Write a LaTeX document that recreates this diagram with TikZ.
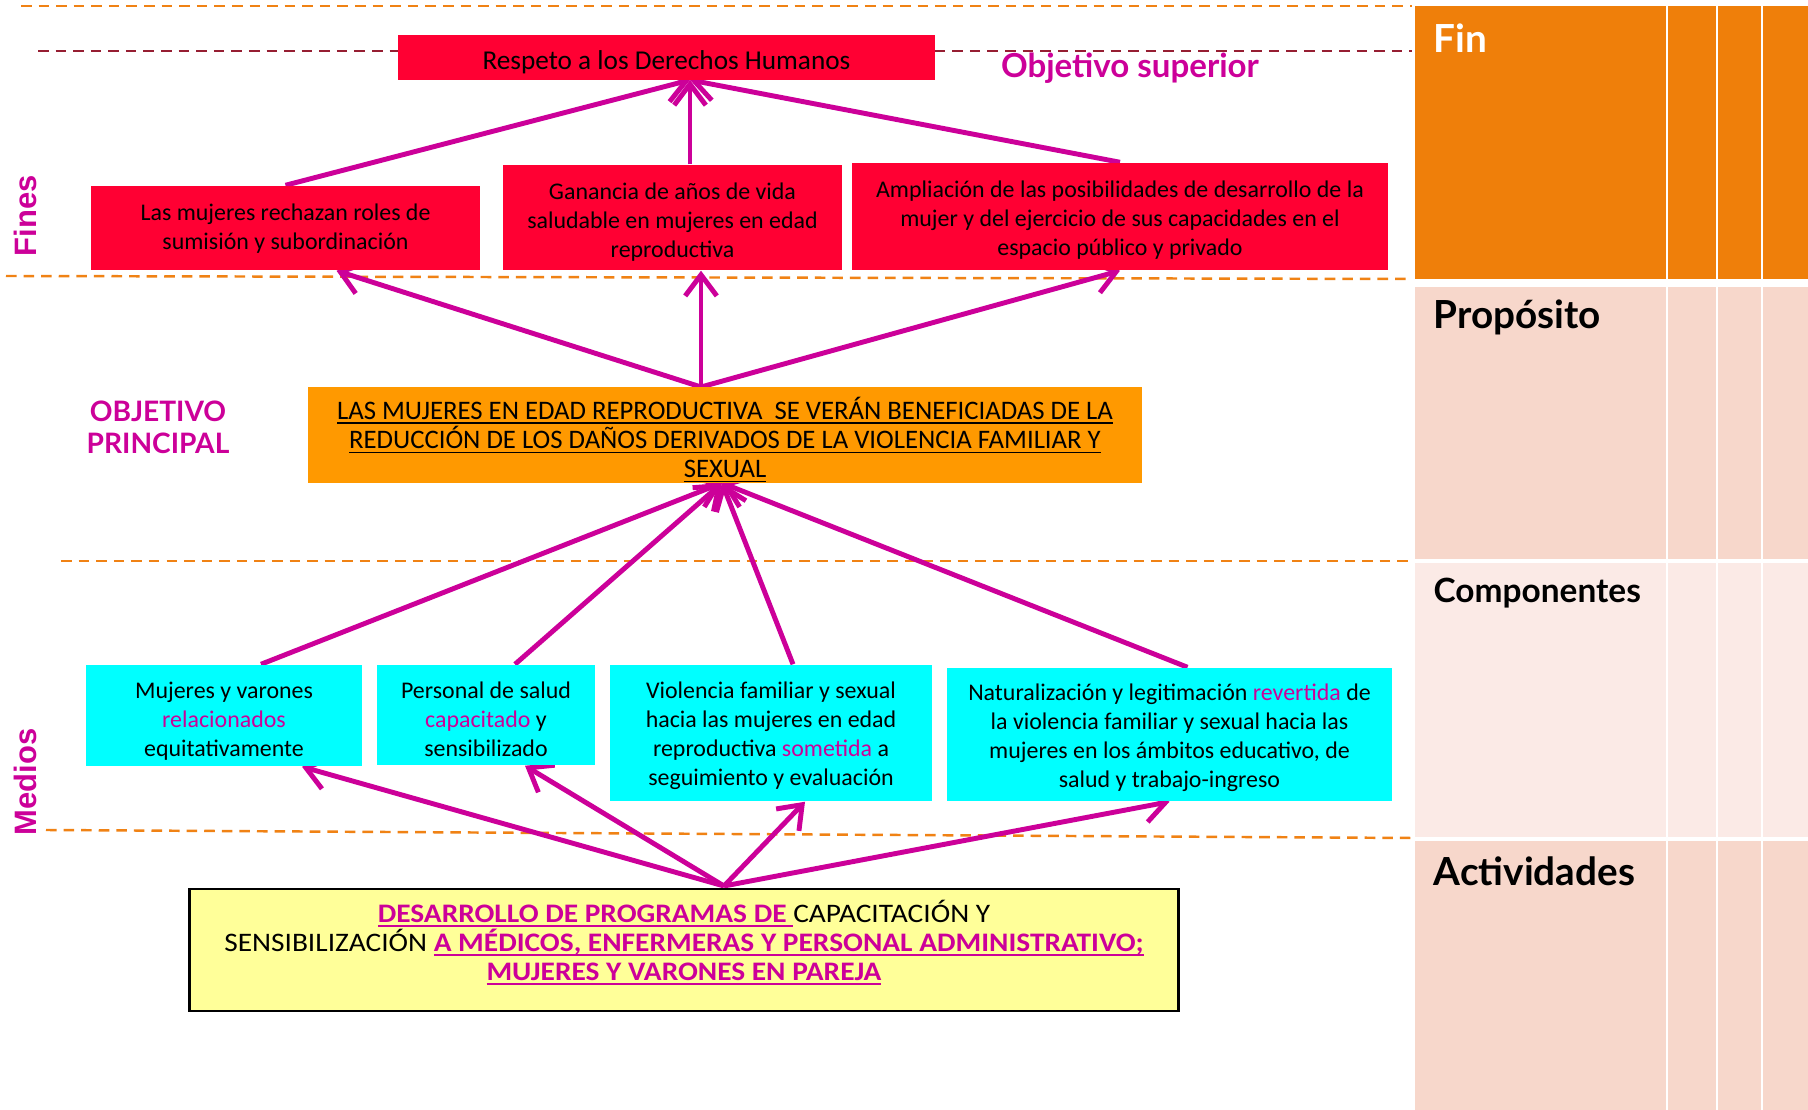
\documentclass[tikz,border=0pt]{standalone}
\usepackage{fontspec}
\setmainfont{Carlito}
\newfontfamily\arialfont{Liberation Sans}
\newfontfamily\labfont{Lato}
\usetikzlibrary{arrows.meta,calc}
\pgfdeclarelayer{back}
\pgfdeclarelayer{arrowlayer}
\pgfsetlayers{back,arrowlayer,main}
\definecolor{mag}{RGB}{204,0,153}
\definecolor{redc}{RGB}{255,0,51}
\definecolor{orc}{RGB}{255,153,0}
\definecolor{cyc}{RGB}{0,255,255}
\definecolor{yec}{RGB}{255,255,153}
\definecolor{odc}{RGB}{240,130,20}
\definecolor{mdc}{RGB}{150,30,50}
\definecolor{finc}{RGB}{239,127,10}
\definecolor{propc}{RGB}{247,215,203}
\definecolor{compc}{RGB}{251,234,230}
\newcommand{\bodyfs}{\fontsize{6.8pt}{8.25pt}\selectfont}
\newcommand{\mg}[1]{\textcolor{mag}{#1}}
\newcommand{\myul}[1]{\setbox0\hbox{#1}\rlap{\smash{\rule[-1.3pt]{\wd0}{0.55pt}}}\box0}
\newcommand{\mgu}[1]{{\color{mag}\bfseries\myul{#1}}}
\begin{document}
\begin{tikzpicture}[x=0.01cm,y=-0.01cm,
  boxbase/.style={draw=none, inner sep=0pt},
  txt/.style={align=center, inner sep=0pt, font=\bodyfs},
  redbox/.style={boxbase, fill=redc},
  orbox/.style={boxbase, fill=orc},
  cybox/.style={boxbase, fill=cyc},
  yebox/.style={boxbase, fill=yec, draw=black, line width=0.8pt},
  conn/.style={draw=mag, line width=1.4pt, -{Straight Barb[length=6pt,width=9pt]}},
  odash/.style={draw=odc, line width=0.7pt, dash pattern=on 3pt off 2pt},
  mdash/.style={draw=mdc, line width=0.7pt, dash pattern=on 3pt off 2pt},
  sidelab/.style={text=mag, font=\arialfont\bfseries\fontsize{8.8pt}{10pt}\selectfont, rotate=90},
  rowlab/.style={anchor=base west, inner sep=0pt, font=\labfont\bfseries\fontsize{11pt}{13pt}\selectfont}
]
\useasboundingbox (0,0) rectangle (1808,1110);
\begin{pgfonlayer}{back}
\fill[white] (0,0) rectangle (1808,1110);
% right table
\foreach \ya/\yb/\cc in {6/279/finc, 287/559/propc, 563/837/compc, 841/1110/propc}{
  \foreach \xa/\xb in {1415/1666, 1668/1716, 1718/1761, 1763/1808}{
    \fill[\cc] (\xa,\ya) rectangle (\xb,\yb);
  }
}
% dashed guide lines
\draw[odash] (21,6) -- (1412,6);
\draw[mdash] (38,51) -- (1412,51);
\draw[odash] (6,276) -- (1412,279);
\draw[odash] (61,561) -- (1412,561);
\draw[odash] (46,830) -- (1412,838);
\end{pgfonlayer}

\node[rowlab, text=white] (lfin) at (1433,53) {Fin};
\node[rowlab] (lprop) at (1433,329) {Propósito};
\node[rowlab, font=\labfont\bfseries\fontsize{9.5pt}{11pt}\selectfont] (lcomp) at (1433,603) {Componentes};
\node[rowlab] (lact) at (1433,886) {Actividades};

% side labels
\node[sidelab] (fines) at (25,216) {Fines};
\node[sidelab] (medios) at (25,782) {Medios};
\node[text=mag, font=\labfont\bfseries\fontsize{9.4pt}{11pt}\selectfont, anchor=base, inner sep=0pt] (objsup) at (1130,78) {Objetivo superior};
\node[text=mag, font=\labfont\bfseries\fontsize{8pt}{9pt}\selectfont, anchor=base, inner sep=0pt] (objp1) at (158,422) {OBJETIVO};
\node[text=mag, font=\labfont\bfseries\fontsize{8pt}{9pt}\selectfont, anchor=base, inner sep=0pt] (objp2) at (158,454) {PRINCIPAL};

% fines
\node[redbox, minimum width=5.37cm, minimum height=0.45cm] (R0) at (666.5,57.5) {};
\node[txt, font=\fontsize{7.75pt}{9pt}\selectfont] (R0t) at ([yshift=-1.3pt]R0.center) {Respeto a los Derechos Humanos};
\node[redbox, minimum width=3.89cm, minimum height=0.84cm] (R1) at (285.5,228) {};
\node[txt] (R1t) at ([yshift=-0.2pt]R1.center) {Las mujeres rechazan roles de\\sumisión y subordinación};
\node[redbox, minimum width=3.39cm, minimum height=1.05cm] (R2) at (672.5,217.5) {};
\node[txt] (R2t) at ([yshift=-1.2pt]R2.center) {Ganancia de años de vida\\saludable en mujeres en edad\\reproductiva};
\node[redbox, minimum width=5.36cm, minimum height=1.07cm] (R3) at (1120,216.5) {};
\node[txt] (R3t) at ([yshift=-1.0pt]R3.center) {Ampliación de las posibilidades de desarrollo de la\\mujer y del ejercicio de sus capacidades en el\\espacio público y privado};

% objetivo principal
\node[orbox, minimum width=8.34cm, minimum height=0.96cm] (O) at (725,435) {};
\node[txt, font=\fontsize{7.6pt}{8.25pt}\selectfont] (Ot) at ([yshift=-0.8pt]O.center) {\myul{LAS MUJERES EN EDAD REPRODUCTIVA\ \ SE VERÁN BENEFICIADAS DE LA}\\\myul{REDUCCIÓN DE LOS DAÑOS DERIVADOS DE LA VIOLENCIA FAMILIAR Y}\\\myul{SEXUAL}};

% medios
\node[cybox, minimum width=2.76cm, minimum height=1.01cm] (C1) at (224,715.5) {};
\node[txt] (C1t) at ([yshift=-1.6pt]C1.center) {Mujeres y varones\\\mg{relacionados}\\equitativamente};
\node[cybox, minimum width=2.18cm, minimum height=1.00cm] (C2) at (486,715) {};
\node[txt] (C2t) at ([yshift=-1.2pt]C2.center) {Personal de salud\\\mg{capacitado} y\\sensibilizado};
\node[cybox, minimum width=3.22cm, minimum height=1.36cm] (C3) at (771,733) {};
\node[txt] (C3t) at ([yshift=-0.9pt]C3.center) {Violencia familiar y sexual\\hacia las mujeres en edad\\reproductiva \mg{sometida} a\\seguimiento y evaluación};
\node[cybox, minimum width=4.45cm, minimum height=1.33cm] (C4) at (1169.5,734.5) {};
\node[txt] (C4t) at ([yshift=-1.0pt]C4.center) {Naturalización y legitimación \mg{revertida} de\\la violencia familiar y sexual hacia las\\mujeres en los ámbitos educativo, de\\salud y trabajo-ingreso};

% actividades
\node[yebox, minimum width=9.88cm, minimum height=1.22cm] (Y) at (684,950) {};
\node[txt, font=\addfontfeatures{FakeStretch=1.1}\fontsize{7.6pt}{8.25pt}\selectfont] (Yt) at (684,940.5) {\mgu{DESARROLLO DE PROGRAMAS DE\ }CAPACITACIÓN Y\\SENSIBILIZACIÓN \mgu{A MÉDICOS, ENFERMERAS Y PERSONAL ADMINISTRATIVO;}\\\mgu{MUJERES Y VARONES EN PAREJA}};

% connection points
\coordinate (t0) at (690,80);
\coordinate (o0) at (701,387);
\coordinate (o1) at (722,483);
\coordinate (y0) at (724,886);

\begin{pgfonlayer}{arrowlayer}
% arrows to Respeto
\draw[conn] (R1.north) -- (t0);
\draw[conn] (R2.north -| t0) -- (t0);
\draw[conn] (R3.north) -- (t0);
% arrows from objetivo principal to fines
\draw[conn] (o0) -- ($(R1.south)+(51,0)$);
\draw[conn] (o0) -- (R2.south -| o0);
\draw[conn] (o0) -- (R3.south);
% arrows from medios to objetivo principal
\draw[conn] ($(C1.north)+(37,0)$) -- (o1);
\draw[conn] ($(C2.north)+(29,0)$) -- (o1);
\draw[conn] ($(C3.north)+(22,0)$) -- (o1);
\draw[conn] ($(C4.north)+(18,0)$) -- (o1);
% arrows from actividades to medios
\draw[conn] (y0) -- ($(C1.south)+(78,0)$);
\draw[conn] (y0) -- ($(C2.south)+(39,0)$);
\draw[conn] (y0) -- ($(C3.south)+(34,0)$);
\draw[conn] (y0) -- (C4.south);
\end{pgfonlayer}
\end{tikzpicture}
\end{document}
